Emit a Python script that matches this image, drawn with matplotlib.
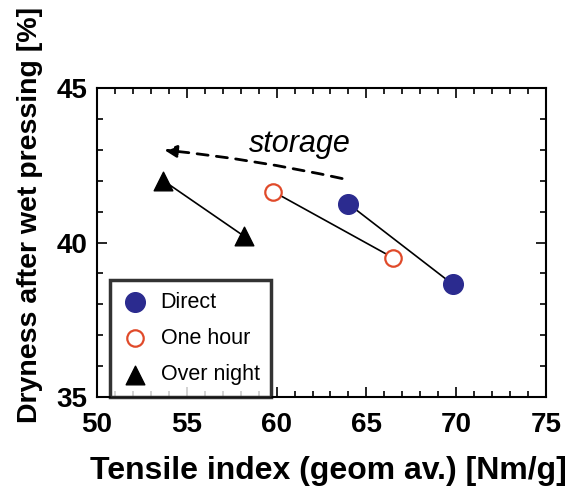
import matplotlib.pyplot as plt
from matplotlib.ticker import MultipleLocator

plt.rcParams['font.family'] = ['Liberation Sans', 'DejaVu Sans']

# Tensile index (geom av.) [Nm/g] vs dryness after wet pressing [%]
direct_x = [64.0, 69.8]
direct_y = [41.25, 38.65]
hour_x = [59.8, 66.5]
hour_y = [41.65, 39.5]
night_x = [53.7, 58.2]
night_y = [42.0, 40.2]

fig = plt.figure(figsize=(5.69, 4.91), dpi=100)
ax = fig.add_axes([0.1705, 0.1914, 0.7891, 0.6294])

ax.plot(direct_x, direct_y, color='black', lw=1.2, zorder=2)
ax.plot(hour_x, hour_y, color='black', lw=1.2, zorder=2)
ax.plot(night_x, night_y, color='black', lw=1.2, zorder=2)

ax.scatter(direct_x, direct_y, s=200, marker='o', color='#2b2b8f', zorder=3, label='Direct')
ax.scatter(hour_x, hour_y, s=140, marker='o', facecolors='white', edgecolors='#e04a2a',
           linewidths=1.6, zorder=3, label='One hour')
ax.scatter(night_x, night_y, s=180, marker='^', color='black', zorder=3, label='Over night')

# storage arrow
ax.annotate('', xy=(53.6, 43.0), xytext=(63.8, 42.05),
            arrowprops=dict(arrowstyle='-|>', linestyle=(0, (4, 3)), color='black',
                            lw=2, mutation_scale=18, connectionstyle='arc3,rad=0.03'))
ax.text(61.3, 43.2, 'storage', fontsize=22, style='italic', ha='center', va='center')

ax.set_xlim(50, 75)
ax.set_ylim(35, 45)
ax.xaxis.set_major_locator(MultipleLocator(5))
ax.xaxis.set_minor_locator(MultipleLocator(1))
ax.yaxis.set_major_locator(MultipleLocator(5))
ax.yaxis.set_minor_locator(MultipleLocator(1))
ax.tick_params(which='both', direction='in', top=True, right=True, width=1.2)
ax.tick_params(which='major', length=7, labelsize=20)
ax.tick_params(axis='x', which='major', pad=11)
ax.tick_params(axis='y', which='major', pad=7)
ax.tick_params(which='minor', length=4)
for lab in ax.get_xticklabels() + ax.get_yticklabels():
    lab.set_fontweight('bold')
for sp in ax.spines.values():
    sp.set_linewidth(1.5)

ax.set_xlabel('Tensile index (geom av.) [Nm/g]', fontsize=23, fontweight='bold')
ax.set_ylabel('Dryness after wet pressing [%]', fontsize=20.5, fontweight='bold')
ax.xaxis.set_label_coords(0.515, -0.19)
ax.yaxis.set_label_coords(-0.12, 0.59)

leg = ax.legend(loc='lower left', bbox_to_anchor=(0.029, 0.0), fontsize=15.5,
                frameon=True, fancybox=False, borderpad=0.55, labelspacing=0.7,
                handlelength=1.2, handletextpad=0.6, scatterpoints=1, borderaxespad=0)
leg.get_frame().set_edgecolor('black')
leg.get_frame().set_linewidth(2.5)

fig.savefig('out.png', dpi=100)
